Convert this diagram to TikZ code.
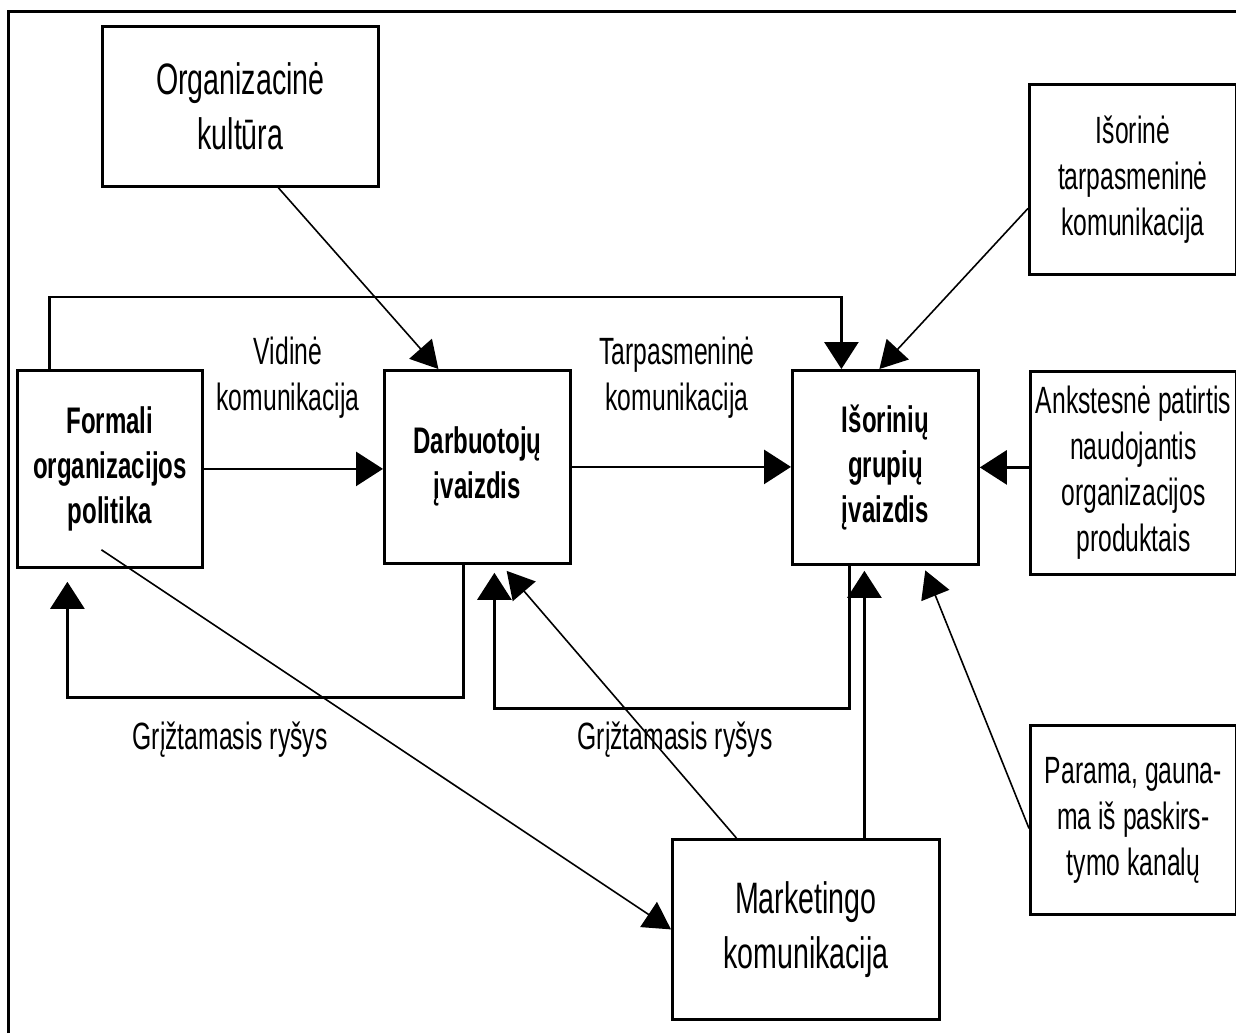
\documentclass[tikz,border=0pt]{standalone}
\usepackage{fontspec}
\newfontfamily\nar[FakeStretch=0.65]{Liberation Sans}
\usetikzlibrary{arrows.meta}
\begin{document}
\begin{tikzpicture}[x=1pt,y=-1pt,
  box/.style={draw,line width=2.8pt,anchor=north west,inner sep=0pt,align=center,
    font=\nar\fontsize{38}{46}\selectfont},
  bigbox/.style={box,font=\nar\fontsize{44}{55}\selectfont},
  boldbox/.style={box,font=\nar\bfseries\fontsize{37}{45}\selectfont},
  lbl/.style={align=center,inner sep=0pt,font=\nar\fontsize{38}{46}\selectfont},
  arr/.style={-{Triangle[length=27pt,width=34pt]},line width=2.8pt},
  diag/.style={-{Triangle[length=27pt,width=30pt]},line width=1.6pt}]
\useasboundingbox (0,0) rectangle (1236,1033);
% outer frame (left and top edges)
\draw[line width=3pt] (8,1033) -- (8,12) -- (1236,12);

% boxes
\node[bigbox,minimum width=276pt,minimum height=160pt] (kult) at (101,25) {Organizacinė\\kultūra};
\node[boldbox,minimum width=185pt,minimum height=197pt] (form) at (16,369) {Formali\\organizacijos\\politika};
\node[boldbox,minimum width=186pt,minimum height=193pt] (darb) at (383,369) {Darbuotojų\\įvaizdis};
\node[boldbox,minimum width=186pt,minimum height=194pt] (isor) at (791,369) {Išorinių\\grupių\\įvaizdis};
\node[box,minimum width=207pt,minimum height=190pt] (ext) at (1028,83) {Išorinė\\tarpasmeninė\\komunikacija};
\node[box,minimum width=206pt,minimum height=203pt] (ank) at (1029,370) {Ankstesnė patirtis\\naudojantis\\organizacijos\\produktais};
\node[box,minimum width=206pt,minimum height=189pt] (par) at (1029,724) {Parama, gauna-\\ma iš paskirs-\\tymo kanalų};
\node[bigbox,minimum width=267pt,minimum height=180pt] (mkt) at (671,838) {Marketingo\\komunikacija};

% labels
\node[lbl] (l1) at (288,378) {Vidinė\\komunikacija};
\node[lbl] (l2) at (677,378) {Tarpasmeninė\\komunikacija};
\node[lbl] (l3) at (230,740) {Grįžtamasis ryšys};
\node[lbl] (l4) at (675,740) {Grįžtamasis ryšys};

% main flow
\draw[arr] (form.east) -- (form.east -| darb.west);
\draw[arr] (darb.east) -- (darb.east -| isor.west);
\draw[arr] ([yshift=5.5pt]ank.west) -- ([yshift=5.5pt]ank.west -| isor.east);
\draw[arr] ([xshift=-60.5pt]form.north) -- ++(0,-72) -| ([xshift=-44pt]isor.north);

% feedback loops
\draw[arr,shorten >=13pt] ([xshift=-14pt]darb.south) -- ++(0,133) -| ([xshift=-42.5pt]form.south);
\draw[arr,shorten >=8pt] ([xshift=-36pt]isor.south) -- ++(0,143) -| ([xshift=17pt]darb.south);
\draw[arr,shorten >=5pt] ([xshift=58.5pt]mkt.north) -- ([xshift=-21pt]isor.south);

% diagonal influences
\draw[diag] ([xshift=38pt]kult.south) -- ([xshift=-39pt]darb.north);
\draw[diag] ([yshift=-29pt]ext.west) -- ([xshift=-6pt]isor.north);
\draw[diag,shorten >=8pt] ([xshift=-69.5pt]mkt.north) -- ([xshift=24pt]darb.south);
\draw[diag,shorten >=5pt] ([yshift=-8.5pt]par.west) -- ([xshift=38pt]isor.south);
\draw[diag] ([xshift=-8.5pt,yshift=19pt]form.south) -- (mkt.west);
\end{tikzpicture}
\end{document}
